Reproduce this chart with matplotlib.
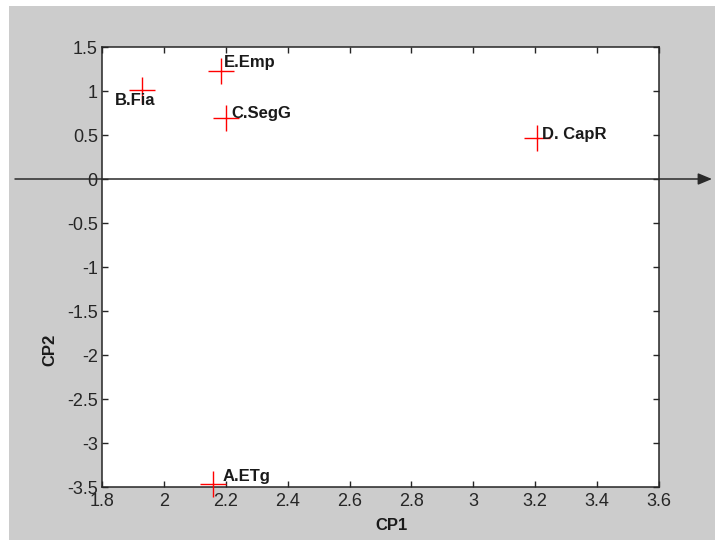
import matplotlib
matplotlib.use("Agg")
import matplotlib.pyplot as plt
from matplotlib.patches import Rectangle
from matplotlib.ticker import FuncFormatter

# Principal component scores for each group
names = ["A.ETg", "B.Fia", "C.SegG", "D. CapR", "E.Emp"]
cp1 = [2.16, 1.93, 2.20, 3.205, 2.185]
cp2 = [-3.47, 1.01, 0.69, 0.47, 1.23]

# label offsets in points relative to each marker
label_offsets = [(6.5, 5.8), (-19.4, -7.2), (4.3, 3.6), (3.6, 2.2), (2.2, 5.8)]

xticks = [1.8, 2.0, 2.2, 2.4, 2.6, 2.8, 3.0, 3.2, 3.4, 3.6]
yticks = [-3.5, -3.0, -2.5, -2.0, -1.5, -1.0, -0.5, 0.0, 0.5, 1.0, 1.5]

W, H = 715, 540
plt.rcParams["font.family"] = ["Liberation Sans", "DejaVu Sans"]

fig = plt.figure(figsize=(W / 100, H / 100), dpi=100, facecolor="white")
fig.patches.append(Rectangle((9 / W, 0), 1 - 9 / W, 1 - 6 / H,
                             transform=fig.transFigure, facecolor="#cccccc",
                             edgecolor="none", zorder=-10))

ax = fig.add_axes([102 / W, 1 - 487 / H, 557 / W, 440 / H])
ax.set_facecolor("white")
ax.set_xlim(1.8, 3.6)
ax.set_ylim(-3.5, 1.5)
ax.set_xticks(xticks)
ax.set_yticks(yticks)
fmt = FuncFormatter(lambda v, p: "%g" % round(v, 2))
ax.xaxis.set_major_formatter(fmt)
ax.yaxis.set_major_formatter(fmt)
ax.tick_params(direction="in", length=4.3, width=1.0, color="#262626",
               labelsize=13, labelcolor="#262626", top=True, right=True)
ax.tick_params(axis="x", pad=4)
ax.tick_params(axis="y", pad=3)
for s in ax.spines.values():
    s.set_linewidth(1.1)
    s.set_color("#262626")

ax.plot(cp1, cp2, linestyle="none", marker="+", markersize=18.5,
        markeredgewidth=1.0, color="#ff0000", clip_on=False, zorder=3)

for name, x, y, off in zip(names, cp1, cp2, label_offsets):
    ax.annotate(name, xy=(x, y), xytext=off, textcoords="offset points",
                ha="left", va="center", fontsize=12, fontweight="bold",
                color="#1a1a1a", annotation_clip=False, zorder=4)

# horizontal axis arrow through CP2 = 0
ax.annotate("", xy=(712 / W, 0), xycoords=("figure fraction", "data"),
            xytext=(15 / W, 0), textcoords=("figure fraction", "data"),
            arrowprops=dict(arrowstyle="-|>,head_length=0.6,head_width=0.25",
                            mutation_scale=14, color="#2a2a2a", lw=1.1,
                            shrinkA=0, shrinkB=0),
            annotation_clip=False, zorder=5)

fig.text(392 / W, 1 - 526 / H, "CP1", ha="center", va="center",
         fontsize=12, fontweight="bold", color="#1a1a1a")
fig.text(50 / W, 1 - 350 / H, "CP2", ha="center", va="center", rotation=90,
         fontsize=12, fontweight="bold", color="#1a1a1a")

fig.savefig("out.png", dpi=100, facecolor=fig.get_facecolor())
